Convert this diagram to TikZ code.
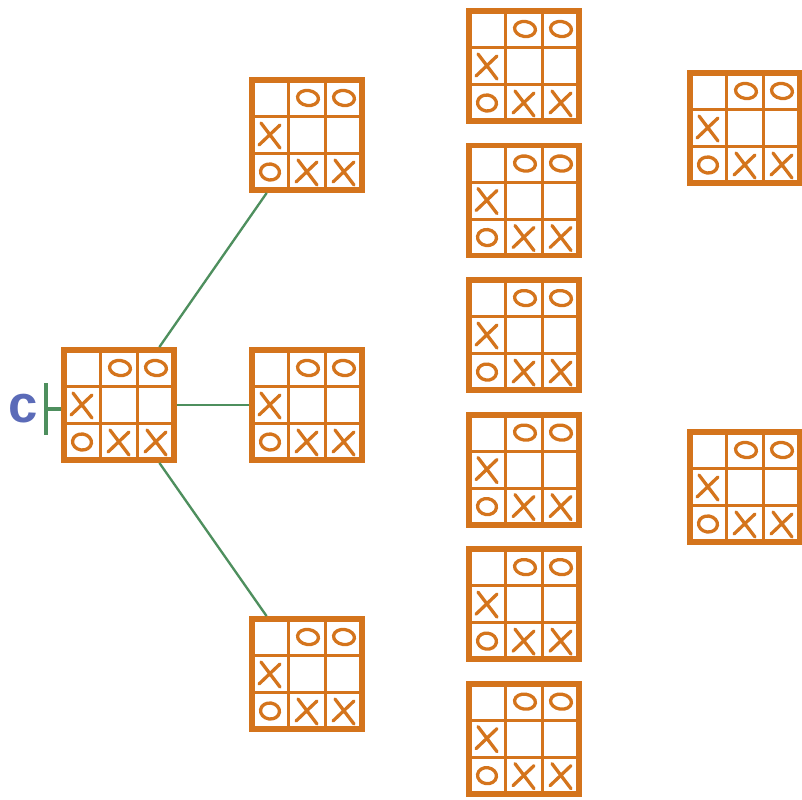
\documentclass[tikz,border=0pt]{standalone}
\usepackage{fontspec}
\setsansfont{Liberation Sans}
\usepackage{tikz}
\usetikzlibrary{positioning,backgrounds}
\definecolor{boardorange}{HTML}{D4741C}
\definecolor{edgegreen}{HTML}{4E8F5E}
\definecolor{labelblue}{HTML}{5B6BB8}

\newcommand{\boardmarks}{%
  \begin{scope}[shift={(path picture bounding box.center)}, x=0.03cm, y=-0.03cm, draw=boardorange, line cap=round]
    \draw[line width=2.6pt] (-18.5,-60) -- (-18.5,60) (18.5,-60) -- (18.5,60)
      (-60,-18.5) -- (60,-18.5) (-60,18.5) -- (60,18.5);
    % noughts
    \draw[line width=2.8pt] (1,-37) ellipse [x radius=10.5, y radius=7.5, rotate=-8];
    \draw[line width=2.8pt] (37,-37) ellipse [x radius=10.5, y radius=7.5, rotate=-8];
    \draw[line width=2.8pt] (-37,37) ellipse [x radius=9.5, y radius=8, rotate=-8];
    % crosses
    \foreach \cx/\cy in {-37/0, 0/37, 37/37}
      \draw[line width=2.8pt] (\cx-9,\cy-12) .. controls (\cx,\cy) .. (\cx+10,\cy+13)
        (\cx-11,\cy+10) -- (\cx+10,\cy-10);
  \end{scope}}

\begin{document}
\begin{tikzpicture}[
    x=0.03cm, y=-0.03cm,
    node distance=0.56cm,
    board/.style={draw=boardorange, line width=5pt, fill=white, minimum size=3.3cm, inner sep=0pt, path picture={\boardmarks}},
    link/.style={draw=edgegreen, line width=2pt}
]
\useasboundingbox (0,0) rectangle (802,799);

\node[board] (root) at (119,405) {};
\node[board] (up) at (307,135) {};
\node[board] (mid) at (307,405) {};
\node[board] (down) at (307,674) {};

\node[board] (c1) at (524,66) {};
\node[board, below=of c1] (c2) {};
\node[board, below=of c2] (c3) {};
\node[board, below=of c3] (c4) {};
\node[board, below=of c4] (c5) {};
\node[board, below=of c5] (c6) {};

\node[board] (far1) at (745,128) {};
\node[board] (far2) at (745,487) {};

\foreach \b in {up, mid, down}
  \draw[link] (root) -- (\b);

% start marker
\node[text=labelblue, font=\sffamily\bfseries\fontsize{45}{47}\selectfont, inner sep=0pt] (clabel) at (23,408.5) {c};
\coordinate (tee) at (46,409);
\draw[edgegreen, line width=2.6pt] (tee) -- (tee -| root.west);
\draw[edgegreen, line width=4.2pt] ([yshift=0.78cm]tee) -- ([yshift=-0.78cm]tee);
\end{tikzpicture}
\end{document}
